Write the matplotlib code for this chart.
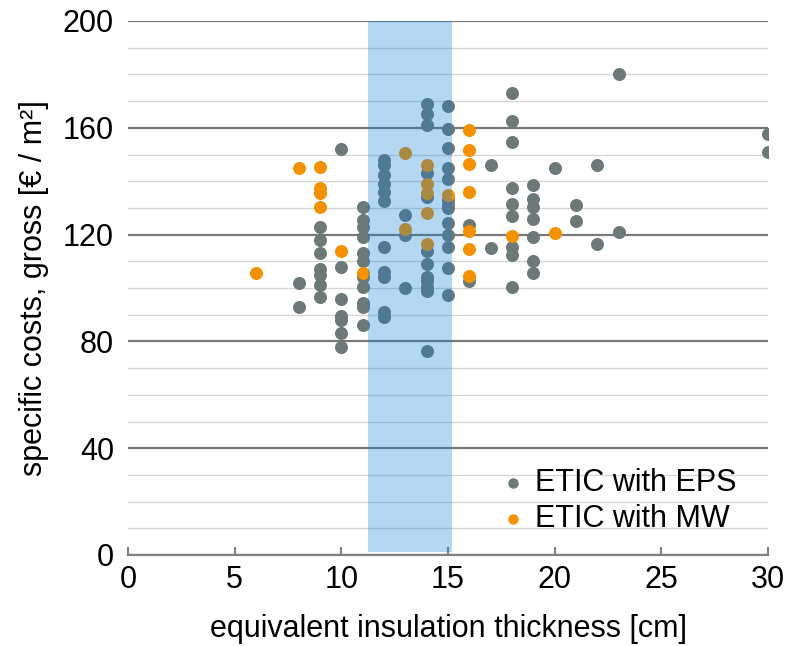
"""
Specific gross costs of ETIC systems vs. equivalent insulation thickness.
"""

import matplotlib
matplotlib.use('Agg')
import matplotlib.pyplot as plt
from matplotlib.ticker import MultipleLocator
from matplotlib.patches import Rectangle

# ---------------------------------------------------------------------------
# Data
# ---------------------------------------------------------------------------
eps_x = ([8] * 2 + [9] * 7 + [10] * 7 + [11] * 11 + [12] * 11 + [13] * 3
         + [14] * 12 + [15] * 13 + [16] * 2 + [17] * 2 + [18] * 9 + [19] * 7
         + [20] + [21] * 2 + [22] * 2 + [23] * 2 + [30] * 2)
eps_y = [102, 93,
         123, 118, 113, 107, 105, 101, 96.5,
         152, 108, 96, 89.5, 88, 83, 78,
         130.5, 125.5, 123, 119, 113, 110, 104, 100.5, 94.5, 93, 86,
         148, 146, 142.5, 139, 136, 132.5, 115.5, 106, 104, 91, 89,
         127.5, 120, 100,
         169, 165, 161, 143, 134, 114, 109, 104, 102.5, 100.5, 99, 76.5,
         168, 159.5, 152.5, 145, 141, 133, 131, 130, 124.5, 120, 115.5, 107.5, 97.5,
         123.5, 102.5,
         146, 115,
         173, 162.5, 154.5, 137.5, 131.5, 127, 115.5, 112.5, 100.5,
         138.5, 133.5, 130.5, 126, 119, 110, 105.5,
         145,
         131, 125,
         146, 116.5,
         180, 121,
         157.5, 151]

mw_x = ([6, 8] + [9] * 4 + [10, 11] + [13] * 2 + [14] * 5 + [15]
        + [16] * 7 + [18, 20])
mw_y = [105.5, 145,
        145.5, 137.5, 135.5, 130.5,
        114, 105.5,
        150.5, 122,
        146, 139, 135.5, 128, 116.5,
        135,
        159, 151.5, 146.5, 136, 121.5, 114.5, 104.5,
        119.5, 120.5]

# highlighted thickness range
band_x = (11.25, 15.2)
band_y = (1, 200)

EPS_COLOR = '#6d7878'
MW_COLOR = '#f39200'
FONT = 22

plt.rcParams['font.family'] = ['Liberation Sans', 'DejaVu Sans']

fig = plt.figure(figsize=(7.92, 6.46), dpi=100)
ax = fig.add_axes([128 / 792, 1 - 555 / 646, 640 / 792, 534 / 646])

ax.scatter(eps_x, eps_y, s=88, color=EPS_COLOR, linewidths=0, zorder=3,
           label='ETIC with EPS')
ax.scatter(mw_x, mw_y, s=88, color=MW_COLOR, linewidths=0, zorder=4,
           label='ETIC with MW')

ax.add_patch(Rectangle((band_x[0], band_y[0]), band_x[1] - band_x[0],
                       band_y[1] - band_y[0], facecolor='#0d7ed5',
                       alpha=0.31, edgecolor='none', zorder=5))

ax.set_xlim(0, 30)
ax.set_ylim(0, 200)

# grid
ax.yaxis.set_major_locator(MultipleLocator(40))
ax.yaxis.set_minor_locator(MultipleLocator(10))
ax.xaxis.set_major_locator(MultipleLocator(5))
ax.grid(axis='y', which='major', color='#787878', linewidth=1.6, zorder=1)
ax.grid(axis='y', which='minor', color='#d4d4d4', linewidth=0.9, zorder=1)
ax.set_axisbelow(True)

for side in ('left', 'right', 'top'):
    ax.spines[side].set_visible(False)
ax.spines['bottom'].set_color('#808080')
ax.spines['bottom'].set_linewidth(1.6)
ax.spines['bottom'].set_zorder(6)

ax.tick_params(axis='x', direction='in', length=6, width=1.5,
               color='#808080', labelsize=FONT, pad=7)
ax.tick_params(axis='y', which='both', length=0, labelsize=FONT, pad=10)

ax.set_xlabel('equivalent insulation thickness [cm]', fontsize=FONT, labelpad=14)
ax.set_ylabel('specific costs, gross [€ / m²]', fontsize=FONT, labelpad=10)

ax.legend(loc='center left', bbox_to_anchor=((498 - 128) / 640, (555 - 501) / 534),
          frameon=False, fontsize=FONT, markerscale=0.8, handlelength=1.0,
          handletextpad=0.22, labelspacing=0.2, borderpad=0, borderaxespad=0)

fig.savefig('out.png', dpi=100)
